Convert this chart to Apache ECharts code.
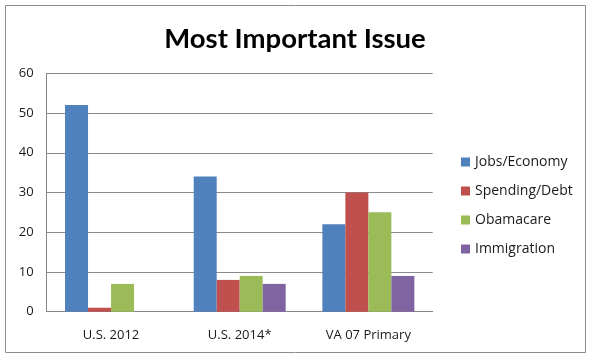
<!DOCTYPE html>
<html>
<head>
<meta charset="utf-8">
<script src="https://cdn.jsdelivr.net/npm/echarts@6/dist/echarts.min.js"></script>
<style>
html,body{margin:0;padding:0;background:#fff;}
#c{width:590px;height:359px;}
</style>
</head>
<body>
<div id="c"></div>
<script>
const categories = ['U.S. 2012', 'U.S. 2014*', 'VA 07 Primary'];
const jobsEconomy = [52, 34, 22];
const spendingDebt = [1, 8, 30];
const obamacare = [7, 9, 25];
const immigration = [0, 7, 9];
const seriesNames = ['Jobs/Economy', 'Spending/Debt', 'Obamacare', 'Immigration'];
const colors = ['#4F81BD', '#C0504D', '#9BBB59', '#8064A2'];
const yMin = 0, yMax = 60, yInterval = 10;

const chart = echarts.init(document.getElementById('c'), null, {renderer: 'canvas'});
const font = '"Open Sans", "DejaVu Sans", sans-serif';
const dataSets = [jobsEconomy, spendingDebt, obamacare, immigration];

chart.setOption({
  animation: false,
  title: {
    text: 'Most Important Issue',
    left: 290, top: 20, textAlign: 'center',
    textStyle: {fontFamily: 'Lato, "Open Sans", sans-serif', fontWeight: 'bold', fontSize: 27.5, color: '#000'}
  },
  graphic: [{
    type: 'rect', shape: {x: 5.5, y: 5.5, width: 580, height: 347},
    style: {fill: 'none', stroke: '#8c8c8c', lineWidth: 1}, z: -1
  }],
  legend: {
    orient: 'vertical', left: 456, top: 149,
    itemWidth: 9, itemHeight: 9, itemGap: 13,
    icon: 'rect',
    textStyle: {fontFamily: font, fontSize: 14, color: '#1a1a1a', lineHeight: 16},
    data: seriesNames
  },
  grid: {left: 46.7, right: 157.3, top: 73.3, bottom: 47.3},
  xAxis: {
    type: 'category', data: categories,
    axisLine: {lineStyle: {color: '#868686', width: 1}},
    axisTick: {show: false},
    axisLabel: {fontFamily: font, fontSize: 13, color: '#1a1a1a', margin: 17}
  },
  yAxis: {
    type: 'value', min: yMin, max: yMax, interval: yInterval,
    axisLine: {show: true, lineStyle: {color: '#868686', width: 1}},
    axisTick: {show: false},
    splitLine: {lineStyle: {color: '#8a8a8a', width: 1}},
    axisLabel: {fontFamily: font, fontSize: 13, color: '#1a1a1a', margin: 13}
  },
  series: seriesNames.map((n, i) => ({
    name: n, type: 'bar', data: dataSets[i],
    barWidth: 23, barGap: '0%',
    itemStyle: {color: colors[i]}
  }))
});
</script>
</body>
</html>
